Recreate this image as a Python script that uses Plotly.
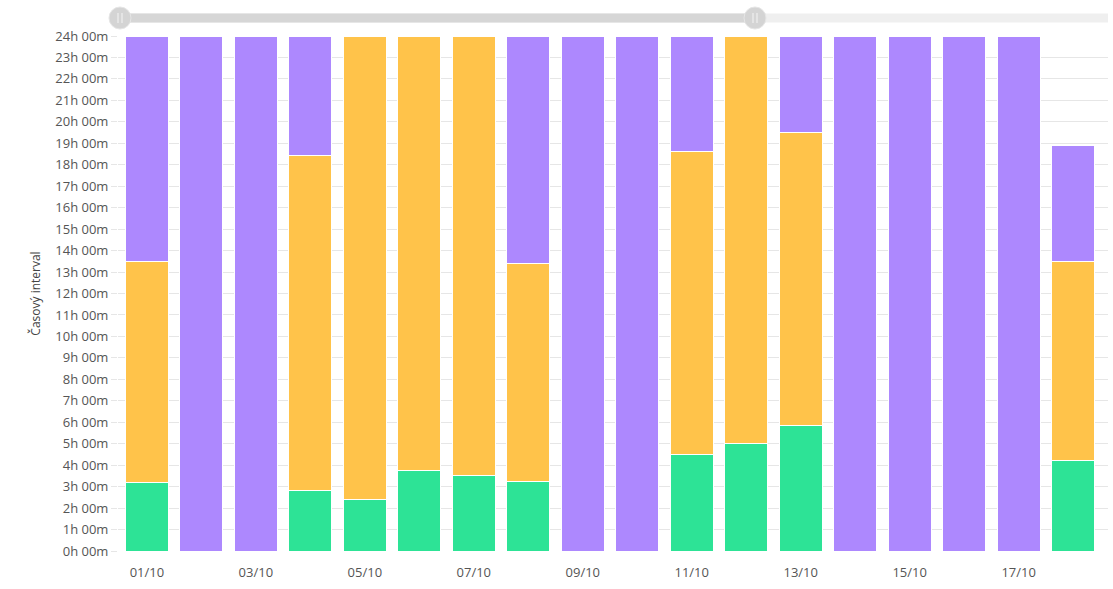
import plotly.graph_objects as go

days = ["01/10", "02/10", "03/10", "04/10", "05/10", "06/10", "07/10", "08/10", "09/10",
        "10/10", "11/10", "12/10", "13/10", "14/10", "15/10", "16/10", "17/10", "18/10"]
# hours per day for each state (stacked bottom -> top)
green = [3.17, 0, 0, 2.84, 2.38, 3.73, 3.54, 3.26, 0, 0, 4.52, 5.03, 5.87, 0, 0, 0, 0, 4.24]
orange = [10.30, 0, 0, 15.61, 21.62, 20.27, 20.46, 10.16, 0, 0, 14.12, 18.97, 13.61, 0, 0, 0, 0, 9.23]
purple = [10.53, 24, 24, 5.55, 0, 0, 0, 10.58, 24, 24, 5.36, 0, 4.52, 24, 24, 24, 24, 5.45]
y_ticks = list(range(0, 25))
y_ticktext = [f"{h}h 00m" for h in y_ticks]
x_ticks = days[::2]

GREEN = "#2de396"
ORANGE = "#ffc34a"
PURPLE = "#ad88fe"

fig = go.Figure()
for vals, col in [(green, GREEN), (orange, ORANGE), (purple, PURPLE)]:
    fig.add_trace(go.Bar(x=days, y=vals, marker=dict(color=col, line=dict(color="white", width=1)),
                         width=0.79, showlegend=False, hoverinfo="skip"))

L, R, T, B = 118, 5, 36, 38
W, H = 1113, 589
pw = W - L - R
ph = H - T - B

def px(x):
    return (x - L) / pw

shapes = []
track_y = 1 + 18 / ph
# light track
shapes.append(dict(type="line", xref="paper", yref="paper", x0=px(120), x1=1.0, y0=track_y, y1=track_y,
                   line=dict(color="#efefef", width=9), layer="above"))
# selected track
shapes.append(dict(type="line", xref="paper", yref="paper", x0=px(120), x1=px(755), y0=track_y, y1=track_y,
                   line=dict(color="#d6d6d6", width=9), layer="above"))
for hx in (120, 755):
    shapes.append(dict(type="circle", xref="paper", yref="paper", xsizemode="pixel", ysizemode="pixel",
                       xanchor=px(hx), yanchor=track_y, x0=-11, x1=11, y0=-11, y1=11,
                       fillcolor="#d4d4d4", line=dict(color="#e6e6e6", width=1), layer="above"))
    for dx in (-2, 2):
        shapes.append(dict(type="line", xref="paper", yref="paper", xsizemode="pixel", ysizemode="pixel",
                           xanchor=px(hx), yanchor=track_y, x0=dx, x1=dx, y0=-5, y1=5,
                           line=dict(color="#f4f4f4", width=1), layer="above"))

fig.update_layout(
    width=W, height=H,
    margin=dict(l=L, r=R, t=T, b=B),
    barmode="stack",
    plot_bgcolor="white", paper_bgcolor="white",
    font=dict(family="Open Sans, Noto Sans, sans-serif", size=13, color="#555555"),
    shapes=shapes,
    xaxis=dict(type="category", range=[-0.53, 17.64], tickvals=x_ticks, ticktext=x_ticks,
               showgrid=False, showline=False, zeroline=False, ticks="", ticklabelstandoff=12,
               tickfont=dict(size=13, color="#555555")),
    yaxis=dict(range=[0, 24], tickvals=y_ticks, ticktext=y_ticktext, showgrid=True,
               gridcolor="#e6e6e6", gridwidth=1, zeroline=False, showline=False,
               ticks="outside", ticklen=6, tickcolor="#e6e6e6",
               tickfont=dict(size=13, color="#555555"),
               title=dict(text="Časový interval", font=dict(size=12, color="#444444"), standoff=12)),
)

fig.write_html("out.html")
